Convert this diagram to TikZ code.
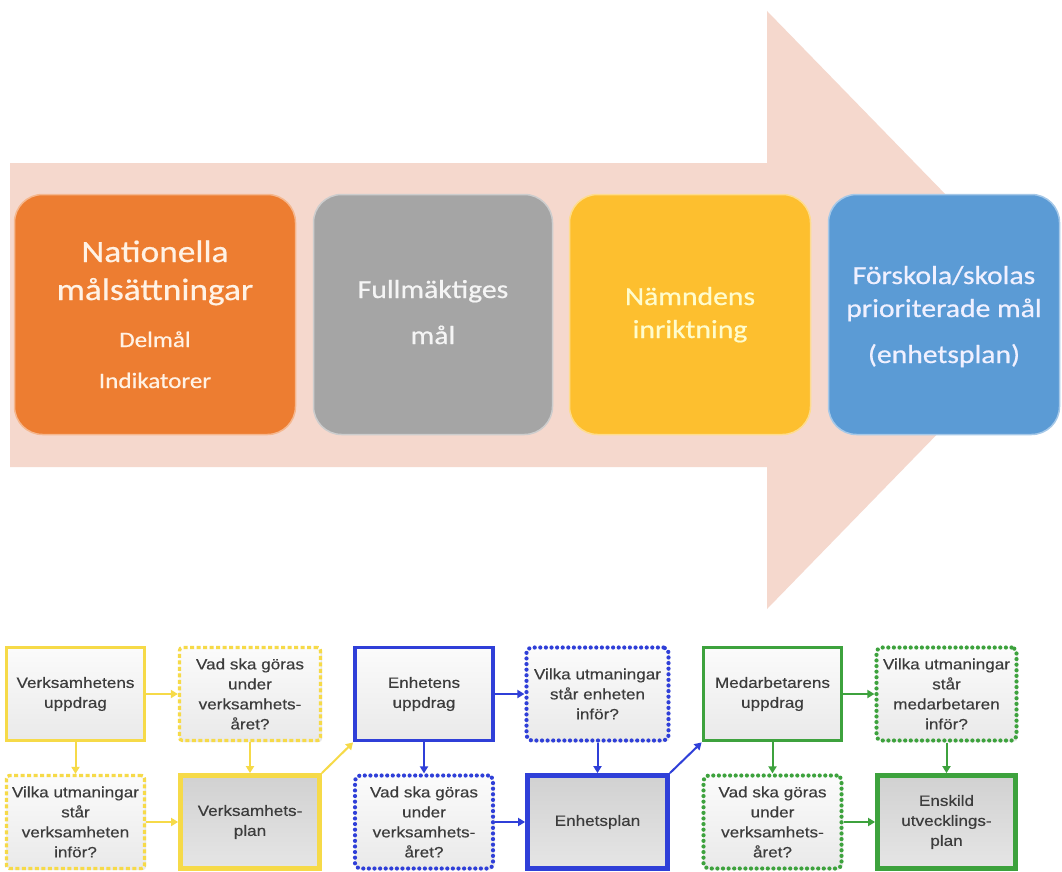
\documentclass[tikz,border=0pt]{standalone}
\usepackage{fontspec}
\setmainfont{Liberation Sans}
\newfontfamily\calib[FakeStretch=1.14,FakeBold=0.6]{Carlito}
\newfontfamily\bfont[FakeStretch=1.14,FakeBold=0.4]{Liberation Sans}
\usetikzlibrary{arrows.meta,shadows}
\definecolor{arrowpink}{HTML}{F5D8CD}
\definecolor{borange}{HTML}{ED7D31}
\definecolor{bgray}{HTML}{A5A5A5}
\definecolor{byellow}{HTML}{FDBF2F}
\definecolor{bblue}{HTML}{5B9BD5}
\definecolor{lyel}{HTML}{F6DA48}
\definecolor{lblue}{HTML}{2F3FD8}
\definecolor{lgreen}{HTML}{3DA23D}
\definecolor{txtgray}{HTML}{3C3C3C}
\begin{document}
\begin{tikzpicture}[x=1pt,y=-1pt,
  topbox/.style={rounded corners=28pt, line width=1.5pt, inner sep=0pt, minimum height=240pt},
  toptxt/.style={font=\calib\fontsize{26}{30}\selectfont, anchor=base, inner sep=0pt},
  basebox/.style={minimum width=#1, minimum height=93pt, inner sep=1pt, align=center,
    font=\bfont\fontsize{15}{20}\selectfont, text=txtgray,
    top color=gray!3, bottom color=gray!17,
    drop shadow={opacity=0.18, shadow xshift=1.5pt, shadow yshift=-1.5pt}},
  solidb/.style={draw=#1, line width=3.8pt},
  dashb/.style={draw=#1, line width=3.3pt, dash pattern=on 4pt off 2.5pt, rounded corners=3pt},
  dotb/.style={draw=#1, line width=4.2pt, dash pattern=on 0pt off 5.6pt, line cap=round, rounded corners=5pt},
  planb/.style={draw=#1, line width=4.8pt, top color=gray!36, middle color=gray!6, bottom color=gray!20},
  arr/.style={draw=#1, line width=2pt, -{Triangle[length=7pt,width=8pt]}}
]
\useasboundingbox (0,0) rectangle (1062,872);
\fill[white] (0,0) rectangle (1062,872);
% big arrow
\fill[arrowpink] (10,163) -- (767,163) -- (767,11) -- (1058,310) -- (767,609) -- (767,467) -- (10,467) -- cycle;
% top boxes
\node[topbox, fill=borange, draw=borange!55!white, minimum width=281pt] (nat) at (155,314.5) {};
\node[topbox, fill=bgray, draw=bgray!55!white, minimum width=239pt] (full) at (433,314.5) {};
\node[topbox, fill=byellow, draw=byellow!55!white, minimum width=241pt] (namn) at (690,314.5) {};
\node[topbox, fill=bblue, draw=bblue!55!white, minimum width=231pt] (forsk) at (944,314.5) {};
% top texts
\node[toptxt, font=\calib\fontsize{31}{36}\selectfont, text=orange!10!white] (nat1) at (155,262) {Nationella};
\node[toptxt, font=\calib\fontsize{31}{36}\selectfont, text=orange!10!white] (nat2) at (155,300) {målsättningar};
\node[toptxt, font=\calib\fontsize{22}{26}\selectfont, text=orange!10!white] (nat3) at (155,347) {Delmål};
\node[toptxt, font=\calib\fontsize{22}{26}\selectfont, text=orange!10!white] (nat4) at (155,388) {Indikatorer};
\node[toptxt, text=gray!8!white] (full1) at (433,298) {Fullmäktiges};
\node[toptxt, text=gray!8!white] (full2) at (433,344) {mål};
\node[toptxt, text=yellow!20!white] (namn1) at (690,305) {Nämndens};
\node[toptxt, text=yellow!20!white] (namn2) at (690,338) {inriktning};
\node[toptxt, text=blue!6!white] (forsk1) at (944,284) {Förskola/skolas};
\node[toptxt, text=blue!6!white] (forsk2) at (944,317) {prioriterade mål};
\node[toptxt, text=blue!6!white] (forsk3) at (944,363) {(enhetsplan)};
% bottom boxes - yellow group
\node[basebox=138pt, solidb=lyel] (a1) at (75.5,694) {Verksamhetens\\uppdrag};
\node[basebox=141pt, dashb=lyel] (a2) at (250,694) {Vad ska göras\\under\\verksamhets-\\året?};
\node[basebox=138pt, dashb=lyel] (a3) at (75.5,822) {Vilka utmaningar\\står\\verksamheten\\inför?};
\node[basebox=139pt, planb=lyel] (a4) at (250,822) {Verksamhets-\\plan};
% blue group
\node[basebox=138pt, solidb=lblue] (b1) at (424,694) {Enhetens\\uppdrag};
\node[basebox=142pt, dotb=lblue] (b2) at (597.5,694) {Vilka utmaningar\\står enheten\\inför?};
\node[basebox=138pt, dotb=lblue] (b3) at (424,822) {Vad ska göras\\under\\verksamhets-\\året?};
\node[basebox=140pt, planb=lblue] (b4) at (597.5,822) {Enhetsplan};
% green group
\node[basebox=138pt, solidb=lgreen] (c1) at (772.5,694) {Medarbetarens\\uppdrag};
\node[basebox=140pt, dotb=lgreen] (c2) at (946.5,694) {Vilka utmaningar\\står\\medarbetaren\\inför?};
\node[basebox=138pt, dotb=lgreen] (c3) at (772.5,822) {Vad ska göras\\under\\verksamhets-\\året?};
\node[basebox=138pt, planb=lgreen] (c4) at (946.5,822) {Enskild\\utvecklings-\\plan};
% connectors
\foreach \g/\c in {a/lyel,b/lblue,c/lgreen}{
  \draw[arr=\c] (\g1.east) -- (\g1.east -| \g2.west);
  \draw[arr=\c] (\g1.south) -- (\g1.south |- \g3.north);
  \draw[arr=\c] (\g2.south) -- (\g2.south |- \g4.north);
  \draw[arr=\c] (\g3.east) -- (\g3.east -| \g4.west);
}
\draw[arr=lyel] (a4.north east) -- (b1.south west);
\draw[arr=lblue] (b4.north east) -- (c1.south west);
\end{tikzpicture}
\end{document}
